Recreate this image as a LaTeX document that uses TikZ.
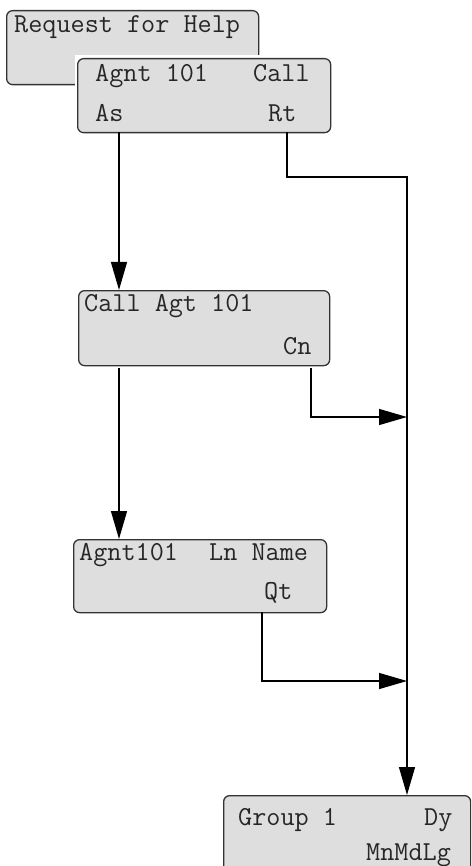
\documentclass[tikz,border=0pt]{standalone}
\usepackage{fontspec}
\usetikzlibrary{arrows.meta}
\tikzset{lcd/.style={draw=black!80, line width=1.3pt, fill=black!13, rounded corners=6pt, anchor=north west, inner sep=0pt}}
\tikzset{txt/.style={anchor=base west, inner sep=0pt, text=black!85, font=\ttfamily\fontsize{27.4}{30}\selectfont}}
\tikzset{flow/.style={draw, line width=1.3pt, -{Triangle[length=28pt,width=16pt]}}}

\begin{document}
\begin{tikzpicture}[x=1pt,y=-1pt]
  \useasboundingbox (0,0) rectangle (471,866);
  \clip (0,0) rectangle (471,866);
  % display screens
  \node[lcd, minimum width=252pt, minimum height=74pt] (help) at (6,10) {};
  \node[txt] (helpA) at (14,33) {Request for Help};
  \fill[white] (75,55) rectangle (336,136);
  \node[lcd, minimum width=253pt, minimum height=74pt] (agent) at (77,58) {};
  \node[txt] (agentA) at (95,82) {Agnt 101};
  \node[txt] (agentB) at (253,82) {Call};
  \node[txt] (agentC) at (95,122) {As};
  \node[txt] (agentD) at (268,122) {Rt};
  \node[lcd, minimum width=251pt, minimum height=75pt] (call) at (78,290) {};
  \node[txt] (callA) at (84,311) {Call Agt 101};
  \node[txt] (callB) at (283,354) {Cn};
  \node[lcd, minimum width=253pt, minimum height=73pt] (ln) at (73,539) {};
  \node[txt] (lnA) at (79,560) {Agnt101};
  \node[txt] (lnB) at (209,560) {Ln Name};
  \node[txt] (lnC) at (264,599) {Qt};
  \node[lcd, minimum width=247pt, minimum height=95pt] (group) at (223,795) {};
  \node[txt] (grpA) at (238,825) {Group 1};
  \node[txt] (grpB) at (424,825) {Dy};
  \node[txt] (grpC) at (366,860) {MnMdLg};
  % softkey connectors
  \coordinate (asOut) at (119,132);
  \coordinate (rtOut) at (287,132);
  \coordinate (bus) at (407,177);
  \coordinate (callOut) at (119,368);
  \coordinate (cnOut) at (311,368);
  \coordinate (cnIn) at (407,417);
  \coordinate (qtOut) at (262,612);
  \coordinate (qtIn) at (407,681);
  \draw[flow] (asOut) -- (asOut |- call.north);
  \draw[flow] (rtOut) |- (bus) -- (bus |- group.north);
  \draw[flow] (callOut) -- (callOut |- ln.north);
  \draw[flow] (cnOut) |- (cnIn);
  \draw[flow] (qtOut) |- (qtIn);
\end{tikzpicture}
\end{document}
